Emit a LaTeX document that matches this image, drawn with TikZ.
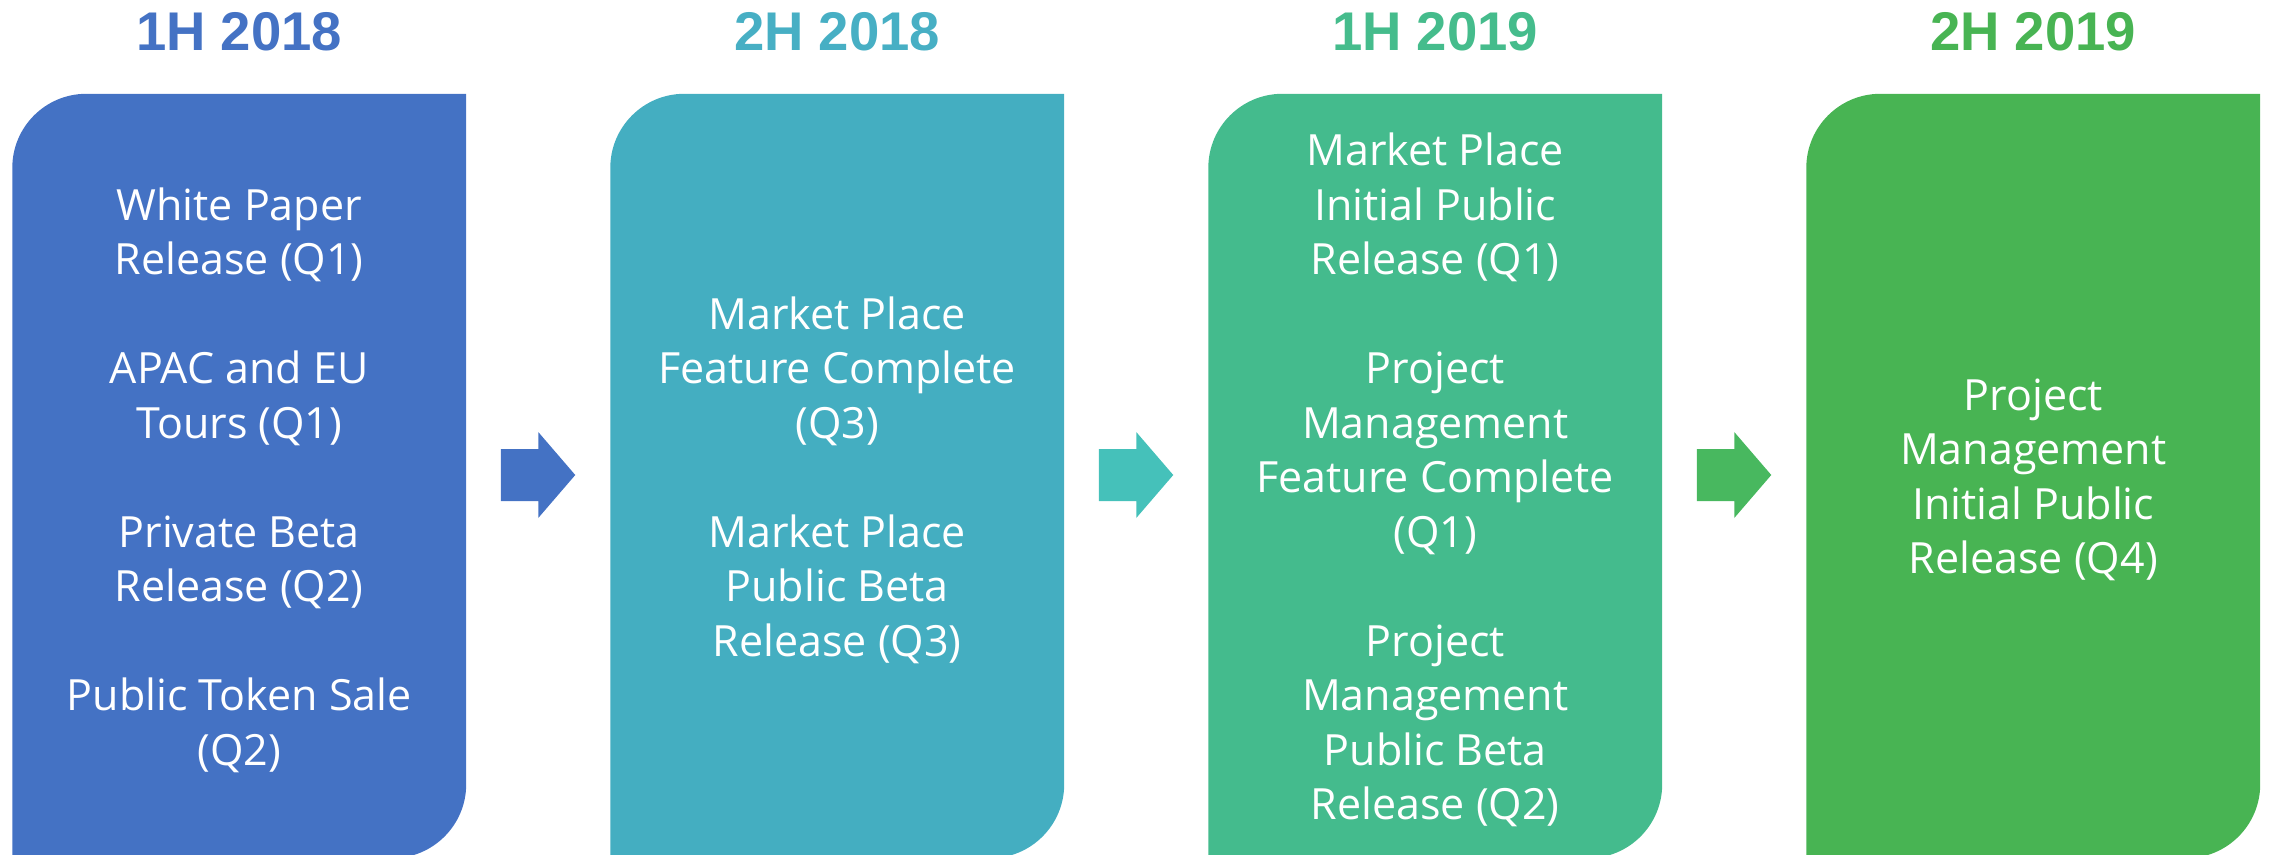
\documentclass[tikz,border=0pt]{standalone}
\usepackage{fontspec}
\setmainfont{Open Sans}
\newfontfamily\headfont{Liberation Sans}
\usetikzlibrary{calc,backgrounds}

\definecolor{cA}{HTML}{4472C4}
\definecolor{cB}{HTML}{44AEC1}
\definecolor{cC}{HTML}{44BB8D}
\definecolor{cD}{HTML}{48B453}
\definecolor{arB}{HTML}{45C1BA}
\definecolor{arC}{HTML}{48B85F}
\definecolor{hB}{HTML}{47AFC4}
\definecolor{hC}{HTML}{45BC8C}

\tikzset{
  phase/.style={minimum width=453.5pt, minimum height=764pt, inner sep=0pt},
  milestones/.style={inner sep=0pt, align=center, text=white,
    font=\fontsize{43}{54.5}\selectfont},
  head/.style={anchor=base, font=\headfont\bfseries\fontsize{54.5}{60}\selectfont},
}

% filled panel: rounded top-left and bottom-right corners
\newcommand\panelfill[2]{%
  \fill[#2] (#1.south west) -- ([yshift=-74pt]#1.north west)
    arc[start angle=180, end angle=90, radius=74pt] -- (#1.north east)
    -- ([yshift=74pt]#1.south east)
    arc[start angle=0, end angle=-90, radius=74pt] -- cycle;}

% block arrow centred on a given point
\newcommand\blockarrow[2]{%
  \fill[#2] ($(#1)+(-37.5,26)$) -- ($(#1)+(0,26)$) -- ($(#1)+(0,43)$)
    -- ($(#1)+(37,0)$) -- ($(#1)+(0,-43)$) -- ($(#1)+(0,-26)$)
    -- ($(#1)+(-37.5,-26)$) -- cycle;}

\begin{document}
\begin{tikzpicture}[x=1pt, y=1pt]
\useasboundingbox (0,0) rectangle (2272,-854);
\clip (0,0) rectangle (2272,-854);

% phase panels
\node[phase] (p1) at (239.25,-476) {};
\node[phase] (p2) at (837.25,-476) {};
\node[phase] (p3) at (1435.25,-476) {};
\node[phase] (p4) at (2033.25,-476) {};
\panelfill{p1}{cA}
\panelfill{p2}{cB}
\panelfill{p3}{cC}
\panelfill{p4}{cD}

% milestones in each panel
\node[milestones] (t1) at ([yshift=-4pt]p1.center) {White Paper\\Release (Q1)\\[54.5pt]APAC and EU\\Tours (Q1)\\[54.5pt]Private Beta\\Release (Q2)\\[54.5pt]Public Token Sale\\(Q2)};
\node[milestones] (t2) at ([yshift=-4pt]p2.center) {Market Place\\Feature Complete\\(Q3)\\[54.5pt]Market Place\\Public Beta\\Release (Q3)};
\node[milestones] (t3) at ([yshift=-4pt]p3.center) {Market Place\\Initial Public\\Release (Q1)\\[54.5pt]Project\\Management\\Feature Complete\\(Q1)\\[54.5pt]Project\\Management\\Public Beta\\Release (Q2)};
\node[milestones] (t4) at ([yshift=-4pt]p4.center) {Project\\Management\\Initial Public\\Release (Q4)};

% period headings
\node[head, text=cA] (h1) at (239.25,-50) {1H 2018};
\node[head, text=hB] (h2) at (837.25,-50) {2H 2018};
\node[head, text=hC] (h3) at (1435.25,-50) {1H 2019};
\node[head, text=cD] (h4) at (2033.25,-50) {2H 2019};

% arrows between panels
\coordinate (a1) at ($(p1.east)!0.5!(p2.west)+(0,1)$);
\coordinate (a2) at ($(p2.east)!0.5!(p3.west)+(0,1)$);
\coordinate (a3) at ($(p3.east)!0.5!(p4.west)+(0,1)$);
\blockarrow{a1}{cA}
\blockarrow{a2}{arB}
\blockarrow{a3}{arC}
\end{tikzpicture}
\end{document}
